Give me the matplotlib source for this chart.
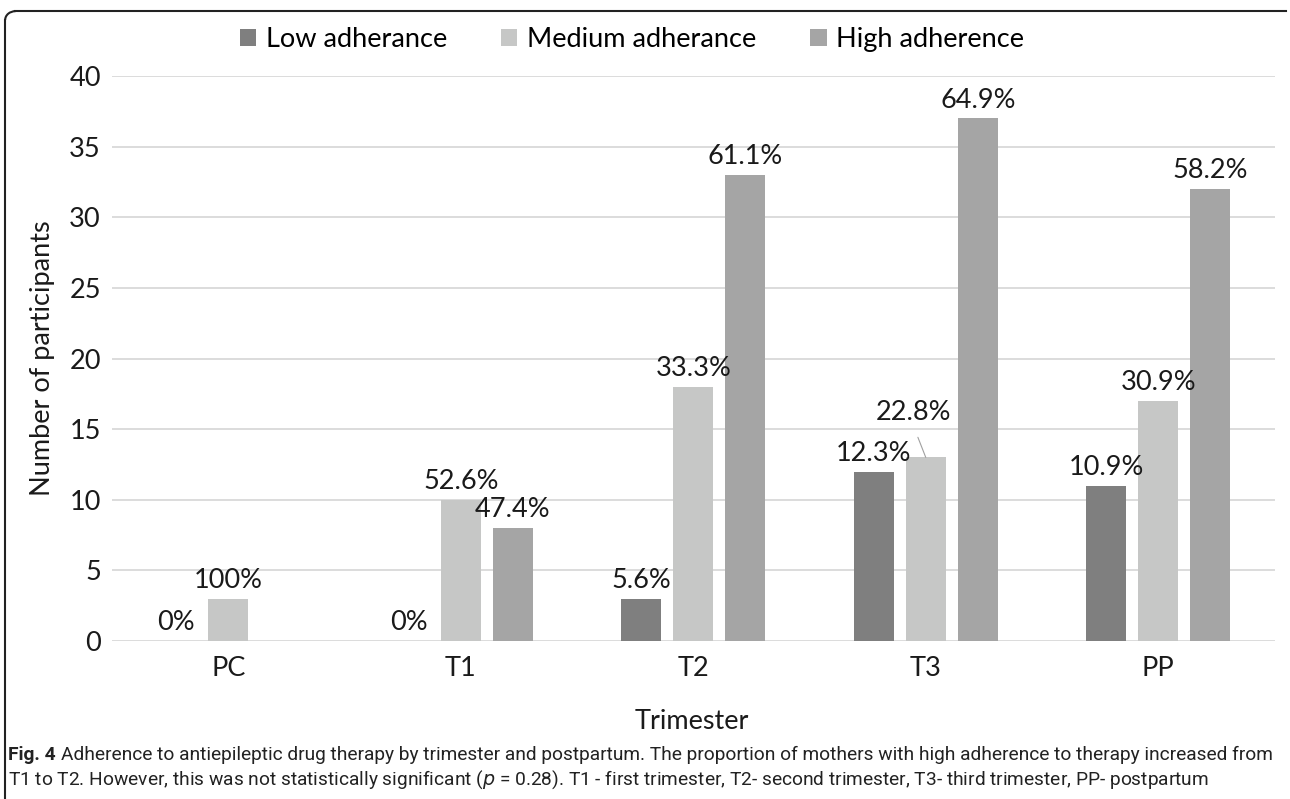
import numpy as np
import matplotlib.pyplot as plt
from matplotlib.lines import Line2D
from matplotlib.patches import Arc

categories = ["PC", "T1", "T2", "T3", "PP"]
low = [0, 0, 3, 12, 11]
medium = [3, 10, 18, 13, 17]
high = [0, 8, 33, 37, 32]
low_pct = ["0%", "0%", "5.6%", "12.3%", "10.9%"]
medium_pct = ["100%", "52.6%", "33.3%", "22.8%", "30.9%"]
high_pct = [None, "47.4%", "61.1%", "64.9%", "58.2%"]
series_names = ["Low adherance", "Medium adherance", "High adherence"]
colors = ["#7f7f7f", "#c6c7c6", "#a5a5a5"]

caption_bold = "Fig. 4"
caption_1 = ("Adherence to antiepileptic drug therapy by trimester and postpartum. The proportion of "
             "mothers with high adherence to therapy increased from")
caption_2 = ("T1 to T2. However, this was not statistically significant ($p$ = 0.28). T1 - first "
             "trimester, T2- second trimester, T3- third trimester, PP- postpartum")

plt.rcParams["font.family"] = ["Lato", "DejaVu Sans"]
fs = 19.5
tc = "#1a1a1a"

fig = plt.figure(figsize=(12.9, 7.99), dpi=100)
ax = fig.add_axes([0.0868, 0.1977, 0.9012, 0.7072])

x = np.arange(len(categories))
w = 0.172
off = 0.224
series = [(low, low_pct), (medium, medium_pct), (high, high_pct)]
for i, (vals, pcts) in enumerate(series):
    pos = x + (i - 1) * off
    ax.bar(pos, vals, width=w, color=colors[i], label=series_names[i], zorder=2)
    for j, (xp, v, p) in enumerate(zip(pos, vals, pcts)):
        if p is None:
            continue
        if i == 1 and categories[j] == "T3":
            # label pulled up-left with a leader line
            ax.annotate(p, xy=(xp, v), xytext=(-9, 23), textcoords="offset points",
                        ha="center", va="bottom", fontsize=fs, color=tc,
                        arrowprops=dict(arrowstyle="-", color="#a0a0a0", lw=0.8,
                                        shrinkA=7, shrinkB=0, relpos=(0.5, 0)))
            continue
        ax.annotate(p, xy=(xp, v), xytext=(0, 4), textcoords="offset points",
                    ha="center", va="bottom", fontsize=fs, color=tc)

ax.set_xlim(-0.5, 4.5)
ax.set_ylim(0, 40)
ax.set_yticks(range(0, 41, 5))
ax.set_xticks(x)
ax.set_xticklabels(categories)
ax.tick_params(axis="both", length=0, labelsize=fs, colors=tc)
ax.tick_params(axis="y", pad=8)
ax.tick_params(axis="x", pad=11)
ax.grid(axis="y", color="#d9d9d9", lw=1.3, zorder=0)
ax.set_axisbelow(True)
for s in ax.spines.values():
    s.set_visible(False)
ax.set_ylabel("Number of participants", fontsize=fs, color=tc, labelpad=10)
fig.text(0.5364, 0.0964, "Trimester", fontsize=fs, color=tc, ha="center", va="center")

fig.legend(loc="center", bbox_to_anchor=(0.49, 0.951), ncol=3, frameon=False,
           fontsize=fs, handlelength=0.6, handleheight=0.6, handletextpad=0.35,
           columnspacing=2.0)

# frame around figure (top edge and left edge)
fig.add_artist(Line2D([0.012, 0.997], [0.986, 0.986], color="#222222", lw=1.5))
fig.add_artist(Line2D([0.004, 0.004], [0.0, 0.975], color="#222222", lw=1.5))
fig.add_artist(Arc((0.012, 0.975), 0.016, 0.022, theta1=90, theta2=180,
                   color="#222222", lw=1.5, transform=fig.transFigure))

# caption, font size fitted so that the first line spans the width
cap_font = ["Roboto", "DejaVu Sans"]
renderer = fig.canvas.get_renderer()
x0, x1 = 8, 1274
y1, y2 = 1 - 755 / 799, 1 - 780 / 799
cfs = 14.0
for _ in range(30):
    tb = fig.text(x0 / 1290, y1, caption_bold, fontsize=cfs, fontweight="bold",
                  color="#222222", family=cap_font, va="center")
    bw = tb.get_window_extent(renderer).width
    t1 = fig.text((x0 + bw + 5) / 1290, y1, caption_1, fontsize=cfs, color="#222222",
                  family=cap_font, va="center")
    end = t1.get_window_extent(renderer).x1
    if end <= x1:
        break
    tb.remove()
    t1.remove()
    cfs -= 0.25
fig.text(x0 / 1290, y2, caption_2, fontsize=cfs, color="#222222", family=cap_font,
         va="center")

fig.savefig("out.png", dpi=100)
